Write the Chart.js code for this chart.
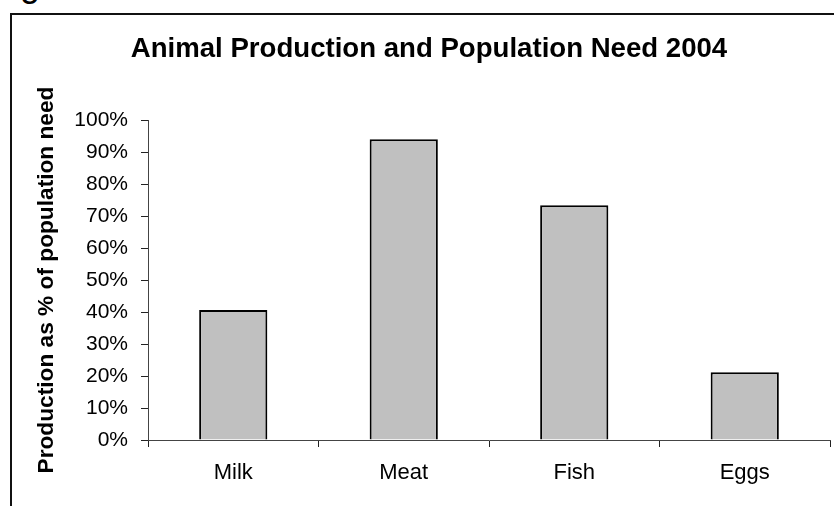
<!DOCTYPE html>
<html>
<head>
<meta charset="utf-8">
<script src="https://cdn.jsdelivr.net/npm/chart.js@4/dist/chart.umd.min.js"></script>
<style>
    html, body {
        margin: 0;
        padding: 0;
        background: #fff;
        overflow: hidden;
        width: 834px;
        height: 506px;
    }
    #caption {
        position: absolute;
        left: -10px;
        top: -34px;
        font: 36px "Liberation Sans", Arial, sans-serif;
        line-height: 36px;
        white-space: nowrap;
    }
    #frame {
        position: absolute;
        left: 10px;
        top: 13px;
        border-left: 2px solid #111;
        border-top: 2px solid #111;
        width: 834px;
        height: 491px;
    }
</style>
</head>
<body>
<div id="caption">Figure</div>
<div id="frame"><canvas id="chart" width="834" height="491"></canvas></div>
<script>
/**
 * The chart data.
 */
const categories = ['Milk', 'Meat', 'Fish', 'Eggs'];
const productionShare = [40.6, 94, 73.4, 21.2];
const yMin = 0;
const yMax = 100;
const yStep = 10;

const FONT = '"Liberation Sans", Arial, sans-serif';

/**
 * Called when the DOM has been loaded.
 */
document.addEventListener('DOMContentLoaded', function() {
    const ctx = document.getElementById('chart').getContext('2d');
    new Chart(ctx, {
        type: 'bar',
        data: {
            labels: categories,
            datasets: [{
                data: productionShare,
                backgroundColor: '#c0c0c0',
                borderColor: '#000',
                borderWidth: 2,
                barPercentage: 0.4,
                categoryPercentage: 1
            }]
        },
        options: {
            responsive: false,
            animation: false,
            // Symmetric padding keeps the title centred on the whole frame.
            layout: {
                padding: {left: 16, right: 16, top: 0, bottom: 0}
            },
            plugins: {
                legend: {display: false},
                tooltip: {enabled: false},
                title: {
                    display: true,
                    text: 'Animal Production and Population Need 2004',
                    color: '#000',
                    font: {family: FONT, size: 27.6, weight: 'bold'},
                    padding: {top: 18, bottom: 53.9}
                }
            },
            scales: {
                x: {
                    grid: {
                        display: true,
                        drawOnChartArea: false,
                        drawTicks: true,
                        tickLength: 7,
                        color: '#222',
                        offset: true
                    },
                    border: {display: true, color: '#444', width: 1},
                    ticks: {
                        color: '#000',
                        font: {family: FONT, size: 22},
                        padding: 13,
                        maxRotation: 0
                    },
                    afterFit(scale) {
                        scale.height = 66;
                    }
                },
                y: {
                    min: yMin,
                    max: yMax,
                    grid: {
                        display: true,
                        drawOnChartArea: false,
                        drawTicks: true,
                        tickLength: 7,
                        color: '#222'
                    },
                    border: {display: true, color: '#444', width: 1},
                    ticks: {
                        stepSize: yStep,
                        color: '#000',
                        font: {family: FONT, size: 21},
                        padding: 13,
                        callback: value => value + '%'
                    },
                    title: {
                        display: true,
                        text: 'Production as % of population need',
                        color: '#000',
                        font: {family: FONT, size: 22.7, weight: 'bold'},
                        padding: {top: 5.4, bottom: 0}
                    },
                    afterFit(scale) {
                        scale.width = 120;
                    }
                }
            }
        }
    });
});
</script>
</body>
</html>
